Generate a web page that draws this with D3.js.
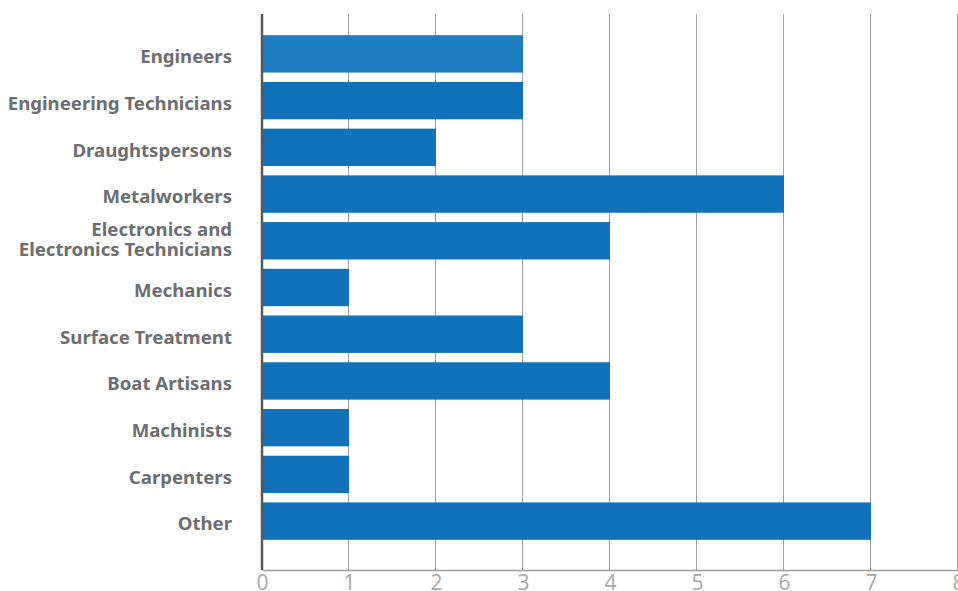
<!DOCTYPE html>
<html>
  <head>
    <meta http-equiv="Content-Type" content="text/html;charset=utf-8"/>
    <script src="https://d3js.org/d3.v7.min.js"></script>
    <style>
      body { margin: 0; background: #fff; }
      .cat text { font-family: "Noto Sans", sans-serif; font-weight: bold; font-size: 18.6px; fill: #6d6e71; }
      .xaxis text { font-family: "Open Sans", sans-serif; font-size: 21px; fill: #a7a9ac; }
    </style>
  </head>
  <body>
    <script type="text/javascript">
        const categories = [
            ['Engineers'],
            ['Engineering Technicians'],
            ['Draughtspersons'],
            ['Metalworkers'],
            ['Electronics and', 'Electronics Technicians'],
            ['Mechanics'],
            ['Surface Treatment'],
            ['Boat Artisans'],
            ['Machinists'],
            ['Carpenters'],
            ['Other']
        ]
        const values = [3, 3, 2, 6, 4, 1, 3, 4, 1, 1, 7]
        const ticks = [0, 1, 2, 3, 4, 5, 6, 7, 8]

        const width = 958,
            height = 591
        const plotLeft = 262, plotRight = 958, plotTop = 14, plotBottom = 570

        const svg = d3.select("body").append("svg")
            .attr("width", width)
            .attr("height", height)

        const x = d3.scaleLinear().domain([0, 8]).range([plotLeft, plotRight])
        // bands sit a little higher than centred in the plot
        const y = d3.scaleBand()
            .domain(d3.range(categories.length))
            .range([plotTop - 4.5, plotBottom - 4.5])
            .paddingInner(0.2)
            .paddingOuter(0.55)

        // grid
        svg.selectAll('line.grid')
            .data(ticks.slice(1))
            .enter()
            .append('line')
            .attr('class', 'grid')
            .attr('x1', d => x(d) - 0.5)
            .attr('x2', d => x(d) - 0.5)
            .attr('y1', plotTop)
            .attr('y2', plotBottom)
            .attr('stroke', '#9d9d9d')
            .attr('stroke-width', 1)

        // bars
        svg.selectAll('rect.bar')
            .data(values)
            .enter()
            .append('rect')
            .attr('class', 'bar')
            .attr('x', x(0))
            .attr('y', (d, i) => y(i))
            .attr('width', d => x(d) - x(0))
            .attr('height', y.bandwidth())
            .attr('fill', (d, i) => i === 0 ? '#1c7bc1' : '#1172ba')

        // bottom axis
        const xAxis = svg.append('g')
            .attr('class', 'xaxis')
            .attr('transform', `translate(0,${plotBottom})`)
            .call(d3.axisBottom(x).tickValues(ticks).tickSize(0).tickPadding(5))
        xAxis.select('.domain').attr('stroke', '#9d9d9d').attr('stroke-width', 1.5)

        // left axis line
        svg.append('line')
            .attr('x1', plotLeft).attr('x2', plotLeft)
            .attr('y1', plotTop).attr('y2', plotBottom)
            .attr('stroke', '#58595b')
            .attr('stroke-width', 2.5)

        // category labels
        const cat = svg.append('g').attr('class', 'cat')
        cat.selectAll('text')
            .data(categories)
            .enter()
            .append('text')
            .attr('text-anchor', 'end')
            .attr('x', 232)
            .attr('y', (d, i) => y(i) + y.bandwidth() / 2)
            .each(function (d) {
                const t = d3.select(this)
                d.forEach((line, k) => {
                    t.append('tspan')
                        .attr('x', 232)
                        .attr('dy', k === 0 ? (d.length > 1 ? '-0.24em' : '0.5em') : '1.07em')
                        .text(line)
                })
            })
    </script>
  </body>
</html>
